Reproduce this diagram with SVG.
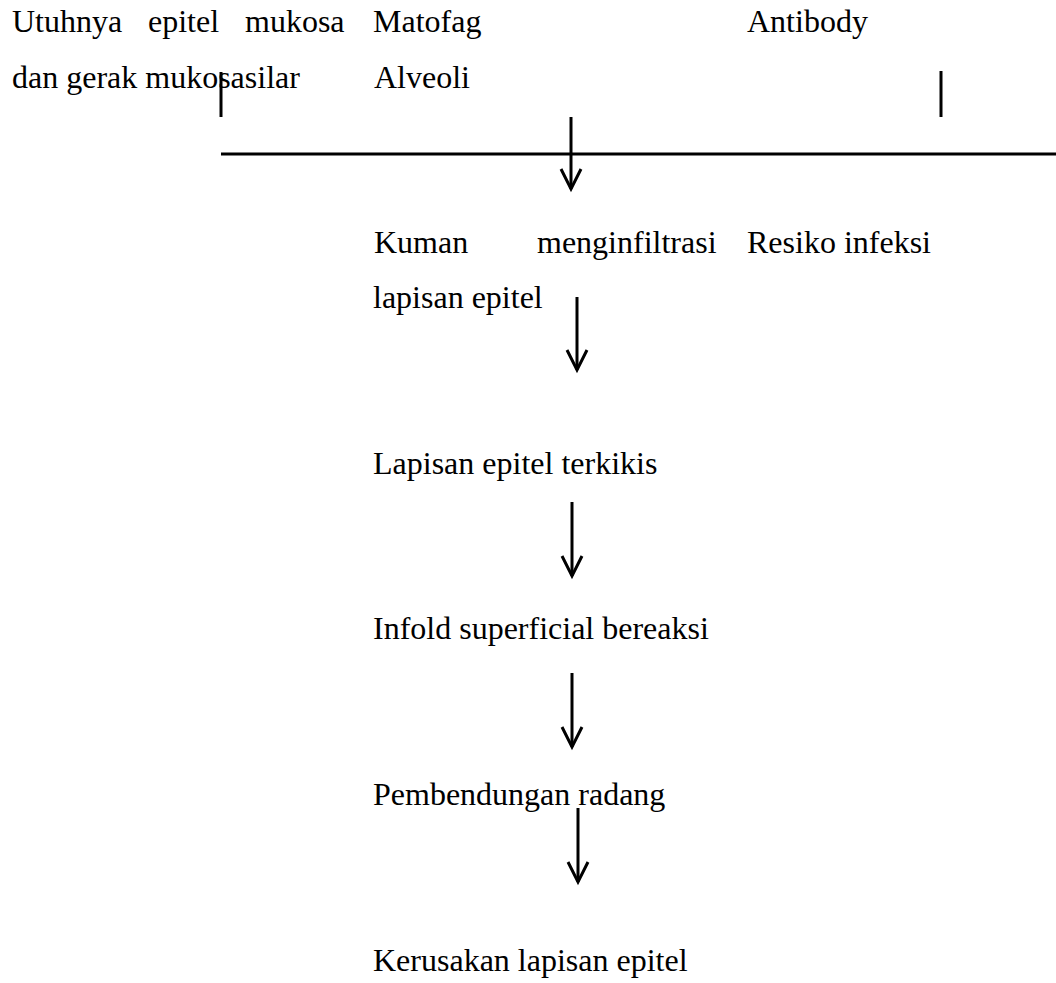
<svg xmlns="http://www.w3.org/2000/svg" width="1056" height="983" viewBox="0 0 1056 983">
  <style>
    text { font-family: "Liberation Serif", "Times New Roman", serif; font-size: 32px; fill: #000; }
    .ln { stroke: #000; stroke-width: 3; fill: none; }
    .arr { stroke: #000; stroke-width: 3; fill: none; marker-end: url(#head); }
  </style>
  <defs>
    <marker id="head" viewBox="-24 -14 28 28" refX="0" refY="0" markerWidth="28" markerHeight="28" markerUnits="userSpaceOnUse" orient="auto">
      <path d="M-20,-10 L0,0 L-20,10" fill="none" stroke="#000" stroke-width="3"/>
    </marker>
  </defs>
  <rect width="1056" height="983" fill="#fff"/>

  <g id="connectors">
    <path class="ln" d="M221 72 V117"/>
    <path class="ln" d="M941 71 V117"/>
    <path class="ln" d="M221 154 H1056"/>
    <path class="arr" d="M571 117 V189"/>
    <path class="arr" d="M577 297 V370"/>
    <path class="arr" d="M572 502 V576"/>
    <path class="arr" d="M572 673 V747"/>
    <path class="arr" d="M578 808 V882"/>
  </g>

  <g id="node-utuhnya">
    <text y="32"><tspan x="12">Utuhnya</tspan><tspan x="148">epitel</tspan><tspan x="245">mukosa</tspan></text>
    <text x="12" y="88">dan gerak mukosasilar</text>
  </g>
  <g id="node-makrofag">
    <text x="373" y="32">Matofag</text>
    <text x="374" y="88">Alveoli</text>
  </g>
  <g id="node-antibody">
    <text x="747" y="32">Antibody</text>
  </g>
  <g id="node-kuman">
    <text y="253"><tspan x="374">Kuman</tspan><tspan x="537">menginfiltrasi</tspan></text>
    <text x="373" y="308">lapisan epitel</text>
  </g>
  <g id="node-resiko">
    <text x="747" y="253">Resiko infeksi</text>
  </g>
  <g id="node-terkikis">
    <text x="373" y="474">Lapisan epitel terkikis</text>
  </g>
  <g id="node-infold">
    <text x="373" y="639">Infold superficial bereaksi</text>
  </g>
  <g id="node-pembendungan">
    <text x="373" y="805">Pembendungan radang</text>
  </g>
  <g id="node-kerusakan">
    <text x="373" y="971">Kerusakan lapisan epitel</text>
  </g>
</svg>
